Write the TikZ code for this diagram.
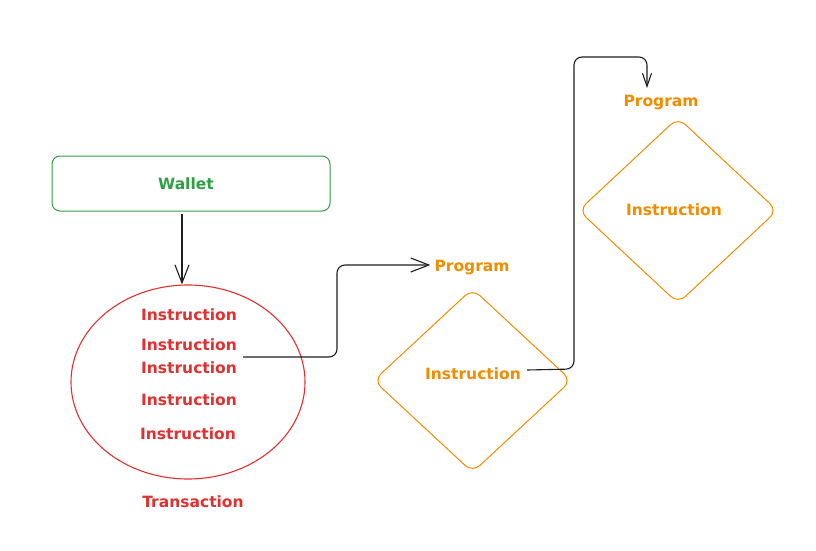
\documentclass[tikz,border=0pt]{standalone}
\usepackage{fontspec}
\setmainfont{DejaVu Sans}
\usetikzlibrary{arrows.meta,shapes.geometric}
\definecolor{exgreen}{HTML}{2F9E44}
\definecolor{exred}{HTML}{E03131}
\definecolor{exorange}{HTML}{F08C00}
\definecolor{exink}{HTML}{1E1E1E}
\begin{document}
\begin{tikzpicture}[x=1pt,y=-1pt,
  lbl/.style={font=\fontsize{15.5}{17}\selectfont\bfseries, inner sep=0pt},
  conn/.style={draw=exink, line width=1.1pt, rounded corners=8pt},
  barb/.style={-{Straight Barb[length=#1, width=14pt, line width=1.1pt]}},
]
\useasboundingbox (0,0) rectangle (816,551);
% wallet
\node[draw=exgreen, line width=1pt, rounded corners=8pt, minimum width=278pt, minimum height=55pt, inner sep=0pt] (wallet) at (191,183.5) {};
\node[lbl, text=exgreen] (wallettxt) at (186,184) {Wallet};
% transaction ellipse
\node[draw=exred, line width=1.1pt, ellipse, minimum width=234pt, minimum height=194pt, inner sep=0pt] (tx) at (188,382) {};
\node[lbl, text=exred] (i1) at (189,315) {Instruction};
\node[lbl, text=exred] (i2) at (189,345) {Instruction};
\node[lbl, text=exred] (i3) at (189,368) {Instruction};
\node[lbl, text=exred] (i4) at (189,400) {Instruction};
\node[lbl, text=exred] (i5) at (188,434) {Instruction};
\node[lbl, text=exred] (txlbl) at (193,502) {Transaction};
% program 1
\node[lbl, text=exorange] (p1) at (472,268) {Program};
\node[draw=exorange, line width=1pt, diamond, rounded corners=10pt, minimum width=198pt, minimum height=184pt, inner sep=0pt] (d1) at (472.5,380.5) {};
\node[lbl, text=exorange] (d1txt) at (473,374) {Instruction};
% program 2
\node[lbl, text=exorange] (p2) at (661,103) {Program};
\node[draw=exorange, line width=1pt, diamond, rounded corners=10pt, minimum width=199pt, minimum height=186pt, inner sep=0pt] (d2) at (678,210.5) {};
\node[lbl, text=exorange] (d2txt) at (674,210) {Instruction};
% connectors
\coordinate (c1s) at (243,357);
\coordinate (c2s) at (527,370);
\coordinate (c2e) at (647,88);
\draw[conn, barb=18pt] (wallet.south -| 182,0) ++(0,2) -- (tx.north -| 182,0);
\draw[conn, barb=18pt] (c1s) -- (337,357) -- (337,265) -- ([xshift=-4pt]p1.west |- 0,265);
\draw[conn, -{Straight Barb[length=13pt, width=9pt, line width=1.1pt]}] (c2s) -- (574,369) -- (574,57) -- (647,57) -- (c2e);
\end{tikzpicture}
\end{document}
